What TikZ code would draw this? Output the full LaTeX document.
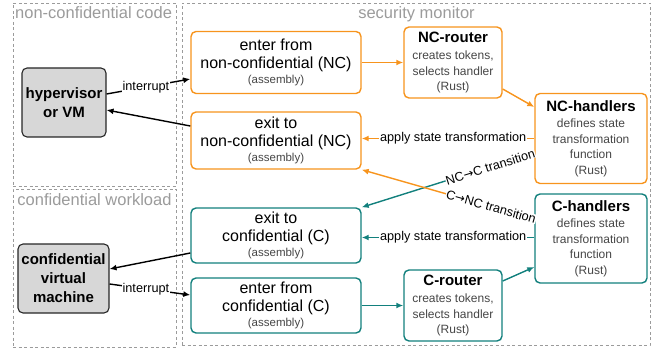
\documentclass[tikz,border=0pt]{standalone}
\usepackage{fontspec}
\setmainfont{Liberation Sans}
\newfontfamily\arrowfont{DejaVu Sans}
\usetikzlibrary{arrows.meta,calc}
\definecolor{ncorange}{RGB}{247,148,29}
\definecolor{cteal}{RGB}{18,128,125}
\definecolor{grouptext}{RGB}{155,155,155}
\definecolor{subtext}{RGB}{70,70,70}
\definecolor{hostfill}{RGB}{215,215,215}
\newcommand{\asmlabel}{{\fontsize{11.5}{14}\selectfont\color{subtext}(assembly)}}
\newcommand{\ttlfont}{\fontsize{15}{18}\selectfont\bfseries\color{black}}
\newcommand{\tarrow}{{\arrowfont\fontsize{12}{12}\selectfont →}}
\begin{document}
\begin{tikzpicture}[x=1pt,y=-1pt,
  box/.style={draw, rounded corners=5pt, line width=1.4pt, align=center, inner sep=0pt, fill=white},
  ncbox/.style={box, draw=ncorange},
  cbox/.style={box, draw=cteal},
  bigtext/.style={font=\fontsize{16}{18}\selectfont},
  subtextstyle/.style={font=\fontsize{12}{15.5}\selectfont, text=subtext},
  hostbox/.style={draw=black!85, fill=hostfill, rounded corners=5pt, line width=1.1pt, align=center, inner sep=0pt, font=\bfseries\fontsize{15}{19}\selectfont},
  group/.style={draw=grouptext, dash pattern=on 3pt off 2.5pt, line width=0.8pt, inner sep=0pt},
  grouplabel/.style={text=grouptext, font=\fontsize{16.5}{18}\selectfont, inner sep=0pt},
  conn/.style={line width=1.4pt, -{Latex[length=7pt,width=6pt]}},
  lbl/.style={font=\fontsize{12.7}{14}\selectfont, fill=white, inner sep=1pt, text=black},
  tlbl/.style={font=\fontsize{12.7}{14}\selectfont, fill=white, inner xsep=0.5pt, inner ysep=0pt, text=black, sloped}
]
\useasboundingbox (0,0) rectangle (661,350);

% groups
\node[group, minimum width=163pt, minimum height=183pt] (ncgrp) at (94.5,94.5) {};
\node[group, minimum width=163pt, minimum height=158pt] (cwgrp) at (94.5,268) {};
\node[group, minimum width=468pt, minimum height=342pt] (smgrp) at (416,174) {};
\node[grouplabel, anchor=base west] (ncclabel) at (15,19) {non-confidential code};
\node[grouplabel, anchor=base] (smlabel) at (416.5,18.5) {security monitor};
\node[grouplabel, anchor=base] (cwlabel) at (94.5,205) {confidential workload};

% hosts
\node[hostbox, minimum width=84pt, minimum height=69pt] (hyp) at (64,102.5) {hypervisor\\or VM};
\node[hostbox, minimum width=91pt, minimum height=69pt] (cvm) at (63.5,278.5) {confidential\\virtual\\machine};

% NC side
\node[ncbox, bigtext, minimum width=170pt, minimum height=62pt] (enterNC) at (276,62.5) {enter from\\non-confidential (NC)\\[-3pt]\asmlabel};
\node[ncbox, bigtext, minimum width=170pt, minimum height=57pt] (exitNC) at (276,140.5) {exit to\\non-confidential (NC)\\[-3pt]\asmlabel};
\node[ncbox, subtextstyle, minimum width=98pt, minimum height=71pt] (NCrouter) at (453,62.5) {{\ttlfont NC-router}\\[2pt]creates tokens,\\selects handler\\(Rust)};
\node[ncbox, subtextstyle, minimum width=112pt, minimum height=90pt] (NChandlers) at (591,138.5) {{\ttlfont NC-handlers}\\[1pt]defines state\\transformation\\function\\(Rust)};

% C side
\node[cbox, bigtext, minimum width=170pt, minimum height=55pt] (exitC) at (276,235.5) {exit to\\confidential (C)\\[-3pt]\asmlabel};
\node[cbox, bigtext, minimum width=170pt, minimum height=55pt] (enterC) at (276,305.5) {enter from\\confidential (C)\\[-3pt]\asmlabel};
\node[cbox, subtextstyle, minimum width=98pt, minimum height=71pt] (Crouter) at (453,305.5) {{\ttlfont C-router}\\[2pt]creates tokens,\\selects handler\\(Rust)};
\node[cbox, subtextstyle, minimum width=112pt, minimum height=89pt] (Chandlers) at (591,238.5) {{\ttlfont C-handlers}\\[1pt]defines state\\transformation\\function\\(Rust)};

% host connectors
\draw[conn] ($(hyp.east)+(0,-8.5)$) -- node[lbl, pos=0.47] {interrupt} ($(enterNC.west)+(0,16.5)$);
\draw[conn] ($(exitNC.west)+(0,-14.5)$) -- ($(hyp.east)+(0,7.5)$);
\draw[conn] ($(exitC.west)+(0,17.5)$) -- ($(cvm.east)+(0,-9.5)$);
\draw[conn] ($(cvm.east)+(0,5.5)$) -- node[lbl, pos=0.45] {interrupt} ($(enterC.west)+(0,-10.5)$);

% NC flow
\draw[conn, ncorange] (enterNC.east) -- (NCrouter.west);
\draw[conn, ncorange] ($(NCrouter.east)+(0,26.5)$) -- ($(NChandlers.west)+(0,-31.5)$);
\draw[conn, ncorange] (NChandlers.west) -- node[lbl, pos=0.47] {apply state transformation} (NChandlers.west -| exitNC.east);

% C flow
\draw[conn, cteal] (enterC.east) -- (Crouter.west);
\draw[conn, cteal] ($(Crouter.east)+(0,-24.5)$) -- ($(Chandlers.west)+(0,28.5)$);
\draw[conn, cteal] ($(Chandlers.west)+(0,-1)$) -- node[lbl, pos=0.47] {apply state transformation} ($(exitC.east)+(0,2)$);

% transitions
\draw[conn, cteal] ($(NChandlers.west)+(0,14.5)$) -- (exitC.north east);
\draw[conn, ncorange] ($(Chandlers.west)+(0,-19.5)$) -- (exitNC.south east);
\path ($(NChandlers.west)+(0,14.5)$) -- node[tlbl, pos=0.255] (ncctext) {NC\tarrow C transition} (exitC.north east);
\path ($(Chandlers.west)+(0,-19.5)$) -- node[tlbl, pos=0.25] (cnctext) {C\tarrow NC transition} (exitNC.south east);
\end{tikzpicture}
\end{document}
